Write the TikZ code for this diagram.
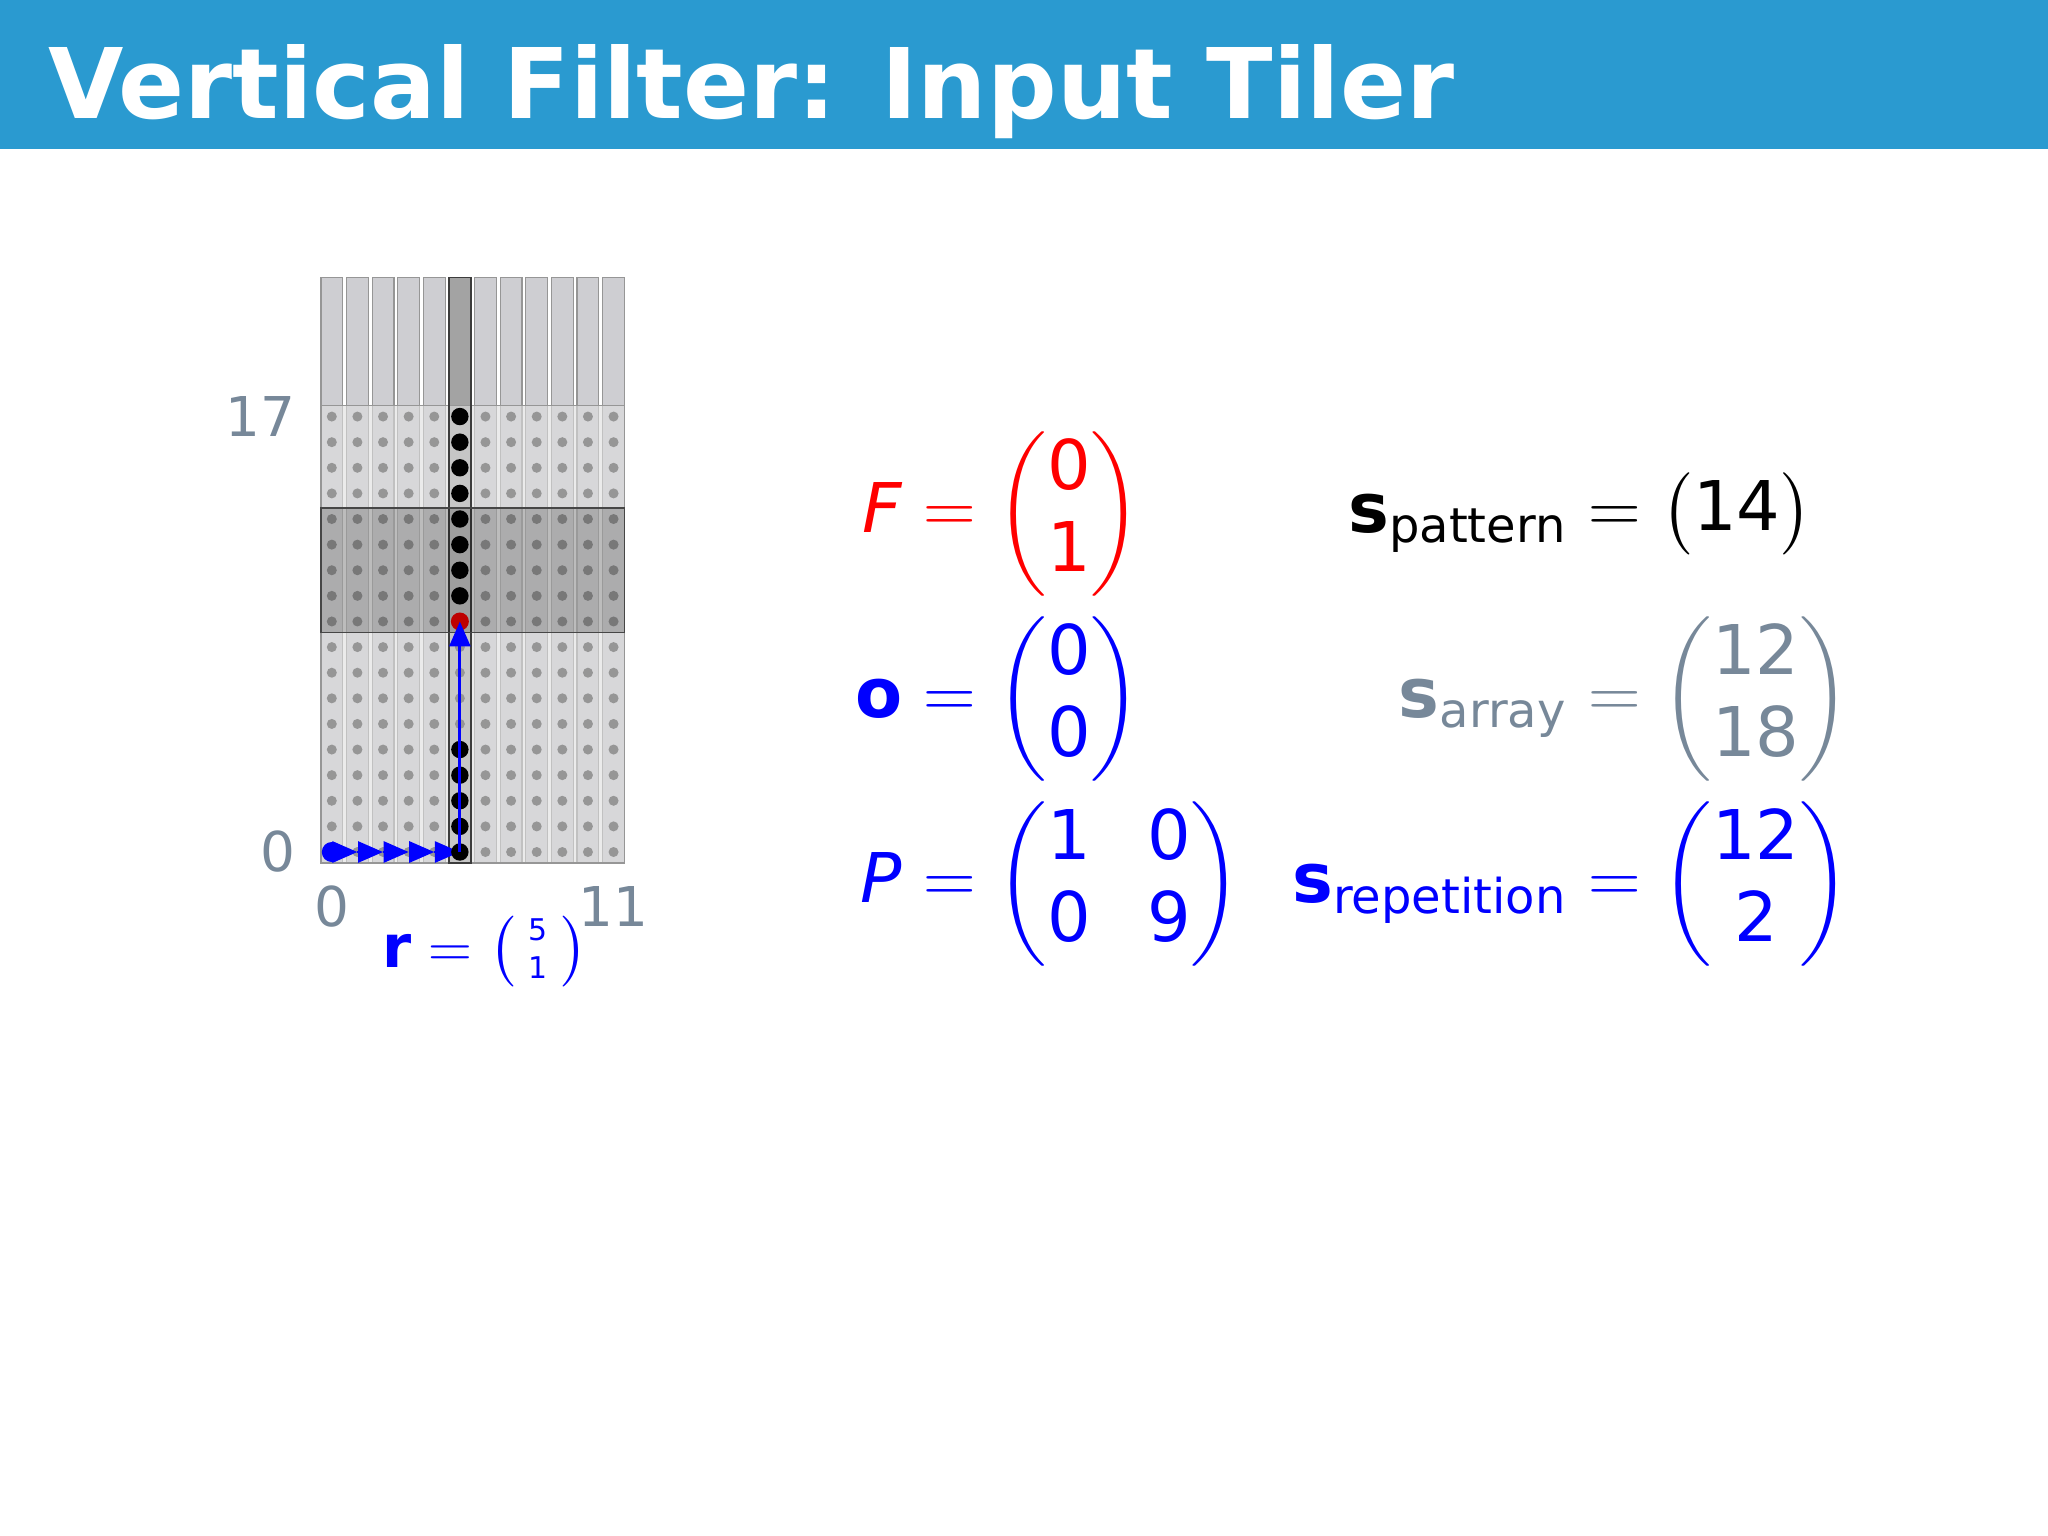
\documentclass[tikz,border=0pt]{standalone}
\usepackage{amsmath}
\usepackage{amssymb}
\usepackage{fontspec}
\setmainfont{DejaVu Sans}
\usetikzlibrary{arrows.meta}
\definecolor{titleblue}{RGB}{42,154,208}
\definecolor{axisgray}{RGB}{119,136,153}
\definecolor{colfill}{RGB}{206,206,210}
\definecolor{colline}{RGB}{150,150,150}
\definecolor{selfill}{RGB}{163,163,163}
\definecolor{selline}{RGB}{60,60,60}
\definecolor{arrayfill}{RGB}{222,222,222}
\definecolor{bandline}{RGB}{70,70,70}
\definecolor{dotgray}{RGB}{150,150,150}
\definecolor{dotred}{RGB}{190,0,0}
\tikzset{
    title-text/.style = {text=white, font=\fontsize{27.7}{33}\selectfont\bfseries, inner sep=0pt, anchor=base west},
    column-box/.style = {draw=colline, line width=0.35pt, fill=colfill},
    array-box/.style = {draw=colline, line width=0.35pt, fill=arrayfill, fill opacity=0.6},
    band-box/.style = {draw=bandline, line width=0.45pt, fill=black, fill opacity=0.2},
    axis-label/.style = {text=axisgray, inner sep=0pt, font=\fontsize{15.6}{18}\selectfont},
    tiler-arrow/.style = {blue, line width=0.8pt, -{Triangle[length=0.25cm, width=0.21cm]}},
    eq-lhs/.style = {anchor=base east, inner sep=0pt, font=\fontsize{19.5}{23.4}\selectfont},
    eq-rhs/.style = {anchor=base west, inner sep=0pt, font=\fontsize{19.5}{23.4}\selectfont},
}
\begin{document}
\begin{tikzpicture}[x=0.01cm, y=-0.01cm]
\useasboundingbox (0,0) rectangle (2048,1536);
\fill[titleblue] (0,0) rectangle (2048,149);
\node[title-text] (title) at (48,118) {Vertical Filter: Input Tiler};

% the input array, one column per output pixel
\begin{scope}[shift={(331.8,852)}, x=0.256cm, y=0.256cm]
  \foreach \i in {0,...,4,6,7,...,11}
    \draw[column-box] (\i-0.425,-0.425) rectangle (\i+0.425,22.425);
  \draw[column-box, fill=selfill] (4.575,-0.425) rectangle (5.425,22.425);
  \draw[array-box] (-0.425,-0.425) rectangle (11.425,17.425);
  \foreach \i in {0,...,11}
    \foreach \j in {0,...,17} {
      \coordinate (c-\i-\j) at (\i,\j);
      \fill[dotgray] (c-\i-\j) circle[radius=0.05cm];
    }
  \draw[selline, line width=0.5pt] (4.575,-0.425) rectangle (5.425,22.425);
  \draw[band-box] (-0.425,8.575) rectangle (11.425,13.425);

  \node[axis-label, anchor=east] (ylab-top) at (-1.4,17) {17};
  \node[axis-label, anchor=east] (ylab-bottom) at (-1.4,0) {0};
  \node[axis-label] (xlab-left) at (0,-2.11) {0};
  \node[axis-label] (xlab-right) at (11,-2.11) {11};

  \foreach \i [evaluate=\i as \n using int(\i+1)] in {0,...,4}
    \draw[tiler-arrow] (c-\i-0) -- (c-\n-0);
  \foreach \j in {0,...,4,10,11,...,17}
    \fill[black] (c-5-\j) circle[radius=0.087cm];
  \fill[dotred] (c-5-9) circle[radius=0.09cm];
  \draw[tiler-arrow] (c-5-0) -- (c-5-9);
  \fill[blue] (c-0-0) circle[radius=0.1cm];
\end{scope}

\node[anchor=base west, inner sep=0pt, text=blue, font=\fontsize{16.8}{20}\selectfont] (repvec) at (382,967)
  {$\mathbf{r} = \left(\vcenter{\hbox{\fontsize{8.5}{11}\selectfont\begin{tabular}{@{\hspace{3.5pt}}c@{\hspace{3.5pt}}}5\\1\end{tabular}}}\right)$};

% tiler parameters
\node[eq-lhs, text=red] (filter) at (903,532) {$\mathit{F}$};
\node[eq-rhs, text=red] (filter-val) at (filter.base east) {${}= \begin{pmatrix}\text{0}\\\text{1}\end{pmatrix}$};
\node[eq-lhs, text=blue] (offset) at (903,717) {$\mathbf{o}$};
\node[eq-rhs, text=blue] (offset-val) at (offset.base east) {${}= \begin{pmatrix}\text{0}\\\text{0}\end{pmatrix}$};
\node[eq-lhs, text=blue] (paving) at (903,902) {$\mathit{P}$};
\node[eq-rhs, text=blue] (paving-val) at (paving.base east) {\setlength{\arraycolsep}{8pt}${}= \begin{pmatrix}\text{1} & \text{0}\\\text{0} & \text{9}\end{pmatrix}$};

\node[eq-lhs] (spattern) at (1568,532) {$\mathbf{s}_{\text{pattern}}$};
\node[eq-rhs] (spattern-val) at (spattern.base east) {${}= \begin{pmatrix}\text{14}\end{pmatrix}$};
\node[eq-lhs, text=axisgray] (sarray) at (1568,717) {$\mathbf{s}_{\text{array}}$};
\node[eq-rhs, text=axisgray] (sarray-val) at (sarray.base east) {${}= \begin{pmatrix}\text{12}\\\text{18}\end{pmatrix}$};
\node[eq-lhs, text=blue] (srep) at (1568,902) {$\mathbf{s}_{\text{repetition}}$};
\node[eq-rhs, text=blue] (srep-val) at (srep.base east) {${}= \begin{pmatrix}\text{12}\\\text{2}\end{pmatrix}$};
\end{tikzpicture}
\end{document}
